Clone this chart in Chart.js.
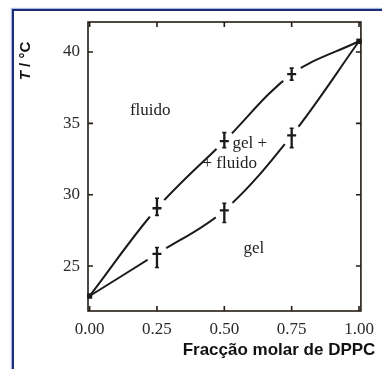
<!DOCTYPE html>
<html>
<head>
<meta charset="utf-8">
<script src="https://cdn.jsdelivr.net/npm/chart.js@4.4.1/dist/chart.umd.min.js"></script>
<style>
  html, body { margin: 0; padding: 0; background: #fff; }
  #wrap { position: relative; width: 382px; height: 369px; overflow: hidden; }
  #frame { position: absolute; left: 12px; top: 9px; width: 420px; height: 420px;
    border: 2px solid #1b2d78; box-shadow: 0 0 1px 1px rgba(60,100,200,.45); pointer-events: none; }
  canvas { position: absolute; left: 0; top: 0; }
</style>
</head>
<body>
<div id="wrap">
  <canvas id="c" width="382" height="369"></canvas>
  <div id="frame"></div>
</div>
<script>
// DPPC mole fraction vs temperature (phase diagram)
const molFrac = [0, 0.25, 0.5, 0.75, 1];
const fluidusT = [22.9, 29.05, 33.75, 38.45, 40.75];
const fluidusErrUp = [0, 0.7, 0.6, 0.42, 0];
const fluidusErrDown = [0, 0.5, 0.45, 0.42, 0];
const solidusT = [22.9, 25.85, 28.9, 34.15, 40.75];
const solidusErrUp = [0, 0.45, 0.5, 0.5, 0];
const solidusErrDown = [0, 0.95, 0.85, 0.85, 0];

const xTicks = [0, 0.25, 0.5, 0.75, 1];
const yTicks = [25, 30, 35, 40];
const xTitle = 'Fracção molar de DPPC';
const yTitleVar = 'T';
const yTitleUnit = ' / °C';
// region labels: [text, x, y, align]
const regionLabels = [
  ['fluido', 0.225, 35.9, 'center'],
  ['gel +', 0.53, 33.6, 'left'],
  ['+ fluido', 0.52, 32.2, 'center'],
  ['gel', 0.61, 26.25, 'center']
];

const INK = '#1a1a1a';

function pts(ys) { return molFrac.map((x, i) => ({ x, y: ys[i] })); }

// knock the curve out around each inner marker, then draw the error bar + cross
const markers = {
  id: 'markers',
  afterDatasetsDraw(chart) {
    const { ctx, scales: { x, y } } = chart;
    const sets = [[fluidusT, fluidusErrUp, fluidusErrDown], [solidusT, solidusErrUp, solidusErrDown]];
    ctx.save();
    sets.forEach(([ys, up, dn]) => {
      molFrac.forEach((m, i) => {
        const px = x.getPixelForValue(m), py = y.getPixelForValue(ys[i]);
        if (i === 0 || i === molFrac.length - 1) {
          ctx.fillStyle = INK;
          ctx.fillRect(px - 2.5, py - 2.5, 5, 5);
          return;
        }
        const top = y.getPixelForValue(ys[i] + up[i]);
        const bot = y.getPixelForValue(ys[i] - dn[i]);
        ctx.fillStyle = '#fff';
        ctx.beginPath();
        ctx.ellipse(px, py, 11, 11, 0, 0, Math.PI * 2);
        ctx.fill();
        ctx.strokeStyle = INK;
        ctx.lineWidth = 2.3;
        ctx.beginPath();
        ctx.moveTo(px, top); ctx.lineTo(px, bot);
        ctx.moveTo(px - 4.5, py); ctx.lineTo(px + 4.5, py);
        ctx.stroke();
        ctx.lineWidth = 1.6;
        ctx.beginPath();
        ctx.moveTo(px - 2, top); ctx.lineTo(px + 2, top);
        ctx.moveTo(px - 2, bot); ctx.lineTo(px + 2, bot);
        ctx.stroke();
      });
    });
    ctx.restore();
  }
};

// box with inward ticks on all four sides, region labels, axis titles
const decor = {
  id: 'decor',
  afterDraw(chart) {
    const { ctx, chartArea: a, scales: { x, y } } = chart;
    ctx.save();
    ctx.strokeStyle = '#221c14';
    ctx.lineWidth = 1.6;
    ctx.strokeRect(a.left, a.top, a.right - a.left, a.bottom - a.top);
    ctx.beginPath();
    xTicks.forEach((v) => {
      const px = x.getPixelForValue(v);
      ctx.moveTo(px, a.bottom); ctx.lineTo(px, a.bottom - 5);
      ctx.moveTo(px, a.top); ctx.lineTo(px, a.top + 5);
    });
    yTicks.forEach((v) => {
      const py = y.getPixelForValue(v);
      ctx.moveTo(a.left, py); ctx.lineTo(a.left + 5, py);
      ctx.moveTo(a.right, py); ctx.lineTo(a.right - 5, py);
    });
    ctx.stroke();

    ctx.fillStyle = '#222';
    ctx.font = '17px "Liberation Serif"';
    ctx.textBaseline = 'middle';
    regionLabels.forEach(([t, vx, vy, al]) => {
      ctx.textAlign = al;
      ctx.fillText(t, x.getPixelForValue(vx), y.getPixelForValue(vy));
    });

    ctx.fillStyle = '#111';
    ctx.textAlign = 'center';
    ctx.font = 'bold 17px "Liberation Sans"';
    ctx.fillText(xTitle, 279, 350);

    ctx.translate(26, 61);
    ctx.rotate(-Math.PI / 2);
    const fI = 'italic bold 15px "Liberation Sans"', fB = 'bold 15px "Liberation Sans"';
    ctx.font = fI; const w1 = ctx.measureText(yTitleVar).width;
    ctx.font = fB; const w2 = ctx.measureText(yTitleUnit).width;
    ctx.textAlign = 'left';
    ctx.font = fI; ctx.fillText(yTitleVar, -(w1 + w2) / 2, 0);
    ctx.font = fB; ctx.fillText(yTitleUnit, -(w1 + w2) / 2 + w1, 0);
    ctx.restore();
  }
};

const curve = (ys) => ({
  data: pts(ys), borderColor: INK, borderWidth: 2, pointRadius: 0,
  tension: 0.35, fill: false
});

new Chart(document.getElementById('c'), {
  type: 'line',
  data: { datasets: [curve(fluidusT), curve(solidusT)] },
  options: {
    responsive: false, animation: false,
    layout: { padding: { top: 22, right: 15, left: 0, bottom: 0 } },
    plugins: { legend: { display: false }, tooltip: { enabled: false } },
    scales: {
      x: {
        type: 'linear', min: -0.006, max: 1.007,
        afterBuildTicks: (s) => { s.ticks = xTicks.map((v) => ({ value: v })); },
        afterFit: (s) => { s.height = 58; },
        grid: { display: false, drawTicks: false },
        border: { display: false },
        ticks: { padding: 8, color: '#2a2a2a', font: { family: 'Liberation Serif', size: 17 },
          callback: (v) => Number(v).toFixed(2), maxRotation: 0 }
      },
      y: {
        type: 'linear', min: 21.85, max: 42.1,
        afterBuildTicks: (s) => { s.ticks = yTicks.map((v) => ({ value: v })); },
        afterFit: (s) => { s.width = 88; },
        grid: { display: false, drawTicks: false },
        border: { display: false },
        ticks: { padding: 8, color: '#2a2a2a', font: { family: 'Liberation Serif', size: 17 } }
      }
    }
  },
  plugins: [markers, decor]
});
</script>
</body>
</html>
